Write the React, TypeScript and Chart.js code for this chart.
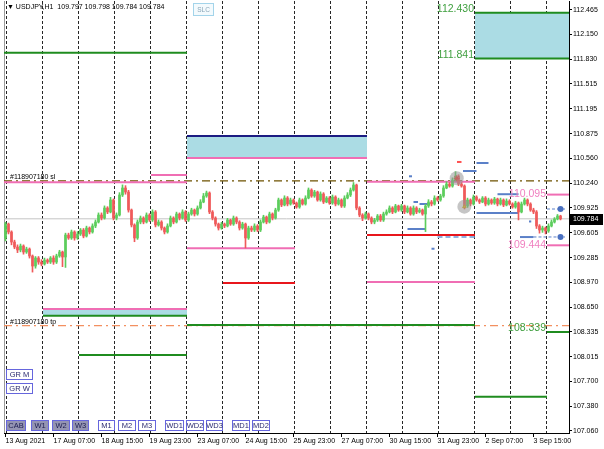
import React, { useEffect, useRef } from 'react';
import { Chart, registerables } from 'chart.js';

Chart.register(...registerables);

// ---------------- data ----------------
const firstOpen = 109.538;

const closes = [
  109.717, 109.615, 109.486, 109.422, 109.384, 109.435, 109.358, 109.396, 109.307, 109.178,
  109.281, 109.229, 109.204, 109.255, 109.229, 109.281, 109.229, 109.307, 109.358, 109.294,
  109.576, 109.538, 109.615, 109.538, 109.589, 109.640, 109.563, 109.666, 109.615, 109.692,
  109.743, 109.833, 109.794, 109.923, 109.872, 110.026, 109.794, 109.833, 110.090, 110.180,
  110.128, 109.897, 109.705, 109.538, 109.743, 109.794, 109.743, 109.833, 109.769, 109.872,
  109.705, 109.743, 109.666, 109.615, 109.692, 109.794, 109.743, 109.846, 109.794, 109.872,
  109.769, 109.846, 109.897, 109.846, 109.923, 110.000, 110.077, 110.116, 109.872, 109.794,
  109.717, 109.666, 109.717, 109.692, 109.769, 109.717, 109.794, 109.743, 109.666, 109.717,
  109.538, 109.666, 109.640, 109.692, 109.640, 109.743, 109.807, 109.743, 109.846, 109.794,
  109.897, 110.026, 109.961, 110.051, 109.974, 110.026, 109.987, 109.936, 110.026, 109.974,
  110.051, 110.154, 110.077, 110.128, 110.026, 110.103, 110.000, 110.051, 109.987, 110.064,
  109.974, 110.026, 109.949, 110.051, 110.090, 110.154, 110.218, 109.923, 109.833, 109.794,
  109.846, 109.794, 109.743, 109.769, 109.820, 109.769, 109.846, 109.872, 109.923, 109.872,
  109.949, 109.897, 109.949, 109.872, 109.923, 109.846, 109.923, 109.872, 109.897, 109.846,
  109.949, 110.000, 109.974, 110.051, 110.026, 110.077, 110.180, 110.231, 110.205, 110.282,
  110.334, 110.231, 110.205, 109.949, 110.026, 109.974, 110.064, 110.026, 110.000, 110.051,
  109.974, 110.026, 109.987, 110.038, 109.974, 110.026, 109.961, 110.013, 109.974, 109.936,
  109.987, 109.872, 109.974, 110.026, 109.974, 109.897, 109.872, 109.692, 109.640, 109.666,
  109.628, 109.692, 109.743, 109.782, 109.820, 109.784,
];

const highs = [
  109.74, 109.73, 109.63, 109.51, 109.45, 109.46, 109.45, 109.42, 109.41, 109.32,
  109.30, 109.30, 109.26, 109.28, 109.27, 109.30, 109.31, 109.33, 109.38, 109.37,
  109.60, 109.60, 109.64, 109.63, 109.62, 109.66, 109.66, 109.69, 109.68, 109.72,
  109.77, 109.86, 109.86, 109.95, 109.94, 110.06, 110.04, 109.86, 110.12, 110.22,
  110.21, 110.15, 109.91, 109.72, 109.77, 109.82, 109.81, 109.86, 109.85, 109.90,
  109.89, 109.77, 109.76, 109.68, 109.72, 109.82, 109.81, 109.87, 109.86, 109.90,
  109.89, 109.87, 109.92, 109.91, 109.95, 110.03, 110.11, 110.14, 110.13, 109.89,
  109.81, 109.73, 109.74, 109.73, 109.79, 109.78, 109.82, 109.81, 109.76, 109.74,
  109.73, 109.69, 109.69, 109.72, 109.71, 109.77, 109.83, 109.82, 109.87, 109.86,
  109.92, 110.05, 110.04, 110.08, 110.07, 110.05, 110.04, 110.00, 110.05, 110.04,
  110.08, 110.18, 110.17, 110.15, 110.14, 110.13, 110.12, 110.07, 110.07, 110.09,
  110.08, 110.05, 110.04, 110.08, 110.12, 110.18, 110.25, 110.23, 109.94, 109.85,
  109.87, 109.86, 109.81, 109.79, 109.84, 109.84, 109.87, 109.90, 109.95, 109.94,
  109.97, 109.96, 109.97, 109.96, 109.95, 109.94, 109.95, 109.94, 109.92, 109.91,
  109.97, 110.03, 110.02, 110.08, 110.07, 110.10, 110.21, 110.26, 110.25, 110.31,
  110.39, 110.35, 110.25, 110.22, 110.05, 110.04, 110.09, 110.08, 110.04, 110.07,
  110.07, 110.05, 110.04, 110.06, 110.05, 110.05, 110.04, 110.04, 110.03, 109.99,
  110.01, 110.00, 110.00, 110.05, 110.04, 109.99, 109.92, 109.89, 109.71, 109.69,
  109.68, 109.72, 109.77, 109.80, 109.84, 109.83,
];

const lows = [
  109.50, 109.59, 109.45, 109.40, 109.35, 109.36, 109.33, 109.34, 109.28, 109.10,
  109.15, 109.20, 109.18, 109.19, 109.21, 109.21, 109.20, 109.21, 109.29, 109.17,
  109.16, 109.52, 109.52, 109.51, 109.52, 109.57, 109.54, 109.55, 109.59, 109.60,
  109.67, 109.73, 109.77, 109.78, 109.85, 109.86, 109.77, 109.77, 109.82, 110.07,
  110.10, 109.87, 109.68, 109.49, 109.52, 109.72, 109.72, 109.73, 109.75, 109.75,
  109.68, 109.69, 109.64, 109.59, 109.60, 109.68, 109.72, 109.73, 109.77, 109.78,
  109.75, 109.75, 109.83, 109.82, 109.83, 109.91, 109.99, 110.06, 109.85, 109.77,
  109.69, 109.64, 109.65, 109.67, 109.68, 109.70, 109.70, 109.72, 109.64, 109.65,
  109.41, 109.52, 109.62, 109.62, 109.62, 109.62, 109.73, 109.72, 109.73, 109.77,
  109.78, 109.88, 109.94, 109.95, 109.95, 109.96, 109.97, 109.92, 109.92, 109.96,
  109.96, 110.04, 110.06, 110.06, 110.01, 110.01, 109.98, 109.99, 109.97, 109.97,
  109.95, 109.96, 109.93, 109.93, 110.04, 110.07, 110.14, 109.90, 109.81, 109.76,
  109.78, 109.77, 109.72, 109.72, 109.75, 109.75, 109.75, 109.83, 109.86, 109.85,
  109.86, 109.88, 109.88, 109.85, 109.86, 109.83, 109.83, 109.85, 109.86, 109.83,
  109.62, 109.93, 109.95, 109.96, 110.01, 110.01, 110.06, 110.17, 110.19, 110.19,
  110.27, 110.21, 110.19, 109.91, 109.93, 109.95, 109.96, 110.01, 109.98, 109.99,
  109.95, 109.96, 109.97, 109.97, 109.95, 109.96, 109.94, 109.95, 109.96, 109.92,
  109.92, 109.77, 109.86, 109.96, 109.95, 109.88, 109.85, 109.66, 109.60, 109.61,
  109.59, 109.61, 109.68, 109.73, 109.77, 109.77,
];

// x axis is measured in H1 bars; one drawn candle = 2 hours
const candleBars = closes.map((_, k) => 1 + 2 * k);

const xTickBars = [1, 33, 65, 97, 129, 161, 193, 225, 257, 289, 321, 353];
const xTickLabels = [
  '13 Aug 2021', '17 Aug 07:00', '18 Aug 15:00', '19 Aug 23:00', '23 Aug 07:00', '24 Aug 15:00',
  '25 Aug 23:00', '27 Aug 07:00', '30 Aug 15:00', '31 Aug 23:00', '2 Sep 07:00', '3 Sep 15:00',
];
const dayGridBars = [2, 26, 50, 74, 98, 122, 146, 170, 194, 218, 242, 266, 290, 314, 338, 362];
const yTicks = [
  112.465, 112.15, 111.83, 111.515, 111.195, 110.875, 110.56, 110.24, 109.925,
  109.605, 109.285, 108.97, 108.65, 108.335, 108.015, 107.7, 107.38, 107.06,
];
const lastPrice = 109.784;
const X_MAX = 376.667;
const Y_MIN = 107.0343;
const Y_MAX = 112.5805;

// horizontal levels: price, from bar, to bar, colour key
const levelPrices = [111.917, 112.43, 111.841, 110.847, 110.565, 110.347, 110.255, 110.26, 109.406, 109.576, 108.96, 108.973, 108.626, 108.54, 108.42, 108.036, 107.5, 108.331, 110.095, 109.444];
const levelFrom = [0, 314, 314, 122, 122, 98, 0, 242, 122, 242, 146, 242, 26, 26, 122, 50, 314, 362, 362, 362];
const levelTo = [122, X_MAX, X_MAX, 242, 242, 122, 122, 314, 194, 314, 194, 314, 122, 122, 314, 122, 362, X_MAX, X_MAX, X_MAX];
const levelKind = ['g', 'g', 'g', 'n', 'p', 'p', 'p', 'p', 'p', 'r', 'r', 'p', 'p', 'g', 'g', 'g', 'g', 'g', 'p', 'p'];

// filled zones: top, bottom, from, to
const zoneTop = [112.43, 110.847, 108.626];
const zoneBottom = [111.841, 110.565, 108.54];
const zoneFrom = [314, 122, 26];
const zoneTo = [X_MAX, 242, 122];

const slPrice = 110.27;
const tpPrice = 108.414;

// small order marks (price, from, to)
const bluePrices = [110.0, 109.974, 109.653, 110.398, 110.501, 110.1, 109.86, 109.55, 109.4, 110.33, 109.75];
const blueFrom = [273, 277, 269, 306, 315, 329, 315, 344, 285, 270, 350];
const blueTo = [276, 284, 281, 315, 323, 343, 343, 353, 287, 272, 351.5];
const redMark = { price: 110.514, from: 302, to: 305 };
const dashedBlue = { price: 109.55, from: 289, to: 314 };
const pendingPrices = [109.91, 109.551];
const pendingFrom = [362, 353];
const pendingTo = [374, 374];
const pendingDotBar = 371;

const circleBars = [301.8, 306.9];
const circlePrices = [110.304, 109.94];

const headerText = '\u25BC USDJPY,H1  109.797 109.798 109.784 109.784';
const levelLabelTexts = ['112.430', '111.841', '108.339', '110.095', '109.444'];
const levelLabelPrices = [112.43, 111.841, 108.331, 110.095, 109.444];
const levelLabelBars = [314, 314, 362, 362, 362];
const levelLabelKind = ['g', 'g', 'g', 'p', 'p'];
const orderLabelTexts = ['#118907180 sl', '#118907180 tp'];
const orderLabelPrices = [slPrice, tpPrice];
const buttonLabels = ['CAB', 'W1', 'W2', 'W3', 'M1', 'M2', 'M3', 'WD1', 'WD2', 'WD3', 'MD1', 'MD2'];
const buttonFilled = [true, true, true, true, false, false, false, false, false, false, false, false];

// ---------------- styles ----------------
const FONT = '"Liberation Sans", Arial, sans-serif';
const C_UP = '#5ccd5c';
const C_DN = '#ef5a5a';
const COLORS: Record<string, string> = { g: '#1f8c1f', p: '#f06eb4', n: '#1c1c82', r: '#e8161c' };
const TEXT_COLORS: Record<string, string> = { g: '#3f9f3f', p: '#f080c0' };
const ZONE_FILL = '#abdce4';

const btnX = [6, 31, 52, 72, 98, 118, 138, 165, 186, 206, 232, 252];
const btnW = [20, 18, 18, 17, 17, 18, 18, 19, 18, 17, 18, 18];

function drawButton(ctx: CanvasRenderingContext2D, x: number, y: number, w: number, h: number, text: string, filled: boolean) {
  ctx.fillStyle = filled ? '#9494b2' : '#ffffff';
  ctx.fillRect(x, y, w, h);
  ctx.strokeStyle = '#6666dd';
  ctx.lineWidth = 1;
  ctx.strokeRect(x + 0.5, y + 0.5, w - 1, h - 1);
  ctx.fillStyle = filled ? '#1c1c52' : '#2a2a70';
  ctx.font = `7.5px ${FONT}`;
  ctx.textAlign = 'center';
  ctx.textBaseline = 'middle';
  ctx.fillText(text, x + w / 2, y + h / 2 + 0.5);
}

const overlayPlugin = {
  id: 'overlay',
  beforeDatasetsDraw(chart: any) {
    const { ctx, chartArea: a } = chart;
    ctx.save();
    ctx.strokeStyle = '#9a9a9a';
    ctx.lineWidth = 1;
    ctx.beginPath();
    ctx.moveTo(a.left + 0.5, a.top);
    ctx.lineTo(a.left + 0.5, a.bottom);
    ctx.stroke();
    ctx.restore();
  },
  afterDraw(chart: any) {
    const ctx: CanvasRenderingContext2D = chart.ctx;
    const xs = chart.scales.x;
    const ys = chart.scales.y;
    ctx.save();
    // header
    ctx.font = `7px ${FONT}`;
    ctx.fillStyle = '#000';
    ctx.textAlign = 'left';
    ctx.textBaseline = 'alphabetic';
    ctx.fillText(headerText, 7, 9);
    // SLC box
    ctx.fillStyle = '#f3fafd';
    ctx.fillRect(193, 3, 21, 13);
    ctx.strokeStyle = '#a3d4ea';
    ctx.strokeRect(193.5, 3.5, 20, 12);
    ctx.fillStyle = '#8aa6b8';
    ctx.font = `6.5px ${FONT}`;
    ctx.textAlign = 'center';
    ctx.textBaseline = 'middle';
    ctx.fillText('SLC', 203.5, 10);
    // level labels
    ctx.font = `10.5px ${FONT}`;
    ctx.textAlign = 'right';
    levelLabelTexts.forEach((t, i) => {
      const x = xs.getPixelForValue(levelLabelBars[i]) - 1;
      const y = ys.getPixelForValue(levelLabelPrices[i]);
      ctx.fillStyle = TEXT_COLORS[levelLabelKind[i]];
      if (levelLabelKind[i] === 'g') {
        ctx.textBaseline = 'alphabetic';
        ctx.fillText(t, x, y - 1);
      } else {
        ctx.textBaseline = 'middle';
        ctx.fillText(t, x, y);
      }
    });
    // order labels
    ctx.font = `7px ${FONT}`;
    ctx.fillStyle = '#000';
    ctx.textAlign = 'left';
    ctx.textBaseline = 'alphabetic';
    orderLabelTexts.forEach((t, i) => {
      ctx.fillText(t, xs.getPixelForValue(4), ys.getPixelForValue(orderLabelPrices[i]) - 2);
    });
    // last price tag
    const py = Math.round(ys.getPixelForValue(lastPrice));
    ctx.fillStyle = '#000';
    ctx.fillRect(570, py - 5, 33, 11);
    ctx.fillStyle = '#fff';
    ctx.font = `7px ${FONT}`;
    ctx.textBaseline = 'middle';
    ctx.fillText(lastPrice.toFixed(3), 573, py + 0.5);
    // buttons
    drawButton(ctx, 6, 369, 27, 11, 'GR M', false);
    drawButton(ctx, 6, 383, 27, 11, 'GR W', false);
    buttonLabels.forEach((b, i) => drawButton(ctx, btnX[i], 420, btnW[i], 11, b, buttonFilled[i]));
    ctx.restore();
  },
};

function seg(price: number, from: number, to: number, color: string, width: number, dash: number[] = []) {
  return {
    type: 'line',
    data: [{ x: from, y: price }, { x: to, y: price }],
    borderColor: color,
    borderWidth: width,
    borderDash: dash,
    pointRadius: 0,
    fill: false,
    borderCapStyle: 'butt',
  };
}

export default function App() {
  const ref = useRef<HTMLCanvasElement | null>(null);

  useEffect(() => {
    if (!ref.current) return;
    const opens = closes.map((c, k) => (k === 0 ? firstOpen : closes[k - 1]));
    const candleColors = closes.map((c, k) => (c >= opens[k] ? C_UP : C_DN));

    const datasets: any[] = [];
    // gray circles (on top)
    datasets.push({
      type: 'line',
      showLine: false,
      data: circleBars.map((b, i) => ({ x: b, y: circlePrices[i] })),
      pointRadius: 7,
      pointBackgroundColor: 'rgba(150,150,150,0.55)',
      pointBorderWidth: 0,
    });
    datasets.push({
      type: 'line',
      showLine: false,
      data: circleBars.map((b, i) => ({ x: b, y: circlePrices[i] })),
      pointStyle: ['star', 'triangle'],
      pointRadius: [3, 2],
      pointBackgroundColor: ['#ff2020', '#f2c200'],
      pointBorderColor: ['#ff2020', '#e0a000'],
      pointBorderWidth: 1,
    });
    // candles
    datasets.push({
      type: 'bar',
      data: candleBars.map((b, k) => ({ x: b, y: [lows[k], highs[k]] })),
      backgroundColor: candleColors,
      barThickness: 1,
      grouped: false,
    });
    datasets.push({
      type: 'bar',
      data: candleBars.map((b, k) => ({ x: b, y: [opens[k], closes[k]] })),
      backgroundColor: candleColors,
      barThickness: 2,
      grouped: false,
    });
    // order marks
    bluePrices.forEach((p, i) => datasets.push(seg(p, blueFrom[i], blueTo[i], '#5b80c8', 2)));
    datasets.push(seg(dashedBlue.price, dashedBlue.from, dashedBlue.to, '#8fb0e0', 2, [5, 3]));
    datasets.push(seg(redMark.price, redMark.from, redMark.to, '#ff5050', 2));
    pendingPrices.forEach((p, i) => {
      datasets.push({
        type: 'line',
        data: [{ x: pendingFrom[i], y: p }, { x: pendingDotBar, y: p }, { x: pendingTo[i], y: p }],
        borderColor: '#5b80c8',
        borderWidth: 1,
        borderDash: [3, 2],
        pointRadius: [0, 3, 0],
        pointBackgroundColor: '#4a70c0',
        pointBorderWidth: 0,
        fill: false,
      });
    });
    // levels
    levelPrices.forEach((p, i) => datasets.push(seg(p, levelFrom[i], levelTo[i], COLORS[levelKind[i]], 2)));
    // SL / TP
    datasets.push(seg(slPrice, 0, X_MAX, '#6e5200', 1.2, [8, 4, 2, 4]));
    datasets.push(seg(tpPrice, 0, X_MAX, '#f39060', 1.2, [8, 4, 2, 4]));
    // last price line
    datasets.push(seg(lastPrice, 0, X_MAX, '#c4c4c4', 1));
    // zones (drawn first)
    zoneTop.forEach((t, i) => {
      datasets.push({
        type: 'line',
        data: [{ x: zoneFrom[i], y: t }, { x: zoneTo[i], y: t }],
        borderWidth: 0,
        pointRadius: 0,
        backgroundColor: ZONE_FILL,
        fill: '+1',
      });
      datasets.push({
        type: 'line',
        data: [{ x: zoneFrom[i], y: zoneBottom[i] }, { x: zoneTo[i], y: zoneBottom[i] }],
        borderWidth: 0,
        pointRadius: 0,
        fill: false,
      });
    });

    const tickFont = { family: FONT, size: 7 };
    const chart = new Chart(ref.current, {
      type: 'bar',
      data: { datasets },
      options: {
        animation: false,
        responsive: false,
        devicePixelRatio: 1,
        events: [],
        layout: { autoPadding: false, padding: { left: 4, top: 1, right: 0, bottom: 0 } },
        plugins: { legend: { display: false }, tooltip: { enabled: false } },
        scales: {
          x: {
            type: 'linear',
            position: 'bottom',
            min: 0,
            max: X_MAX,
            bounds: 'data',
            offset: false,
            afterBuildTicks: (s: any) => {
              s.ticks = xTickBars.map((v) => ({ value: v }));
            },
            afterFit: (s: any) => {
              s.height = 16;
              s.paddingLeft = 0;
              s.paddingRight = 0;
            },
            grid: { drawOnChartArea: false, drawTicks: true, tickLength: 4, color: '#000', offset: false },
            border: { display: true, color: '#000', width: 1 },
            ticks: {
              autoSkip: false,
              maxRotation: 0,
              minRotation: 0,
              align: 'start',
              padding: 0,
              color: '#000',
              font: tickFont,
              callback: (v: any) => xTickLabels[xTickBars.indexOf(Number(v))] ?? '',
            },
          },
          xg: {
            type: 'linear',
            position: 'bottom',
            min: 0,
            max: X_MAX,
            bounds: 'data',
            offset: false,
            afterBuildTicks: (s: any) => {
              s.ticks = dayGridBars.map((v) => ({ value: v }));
            },
            afterFit: (s: any) => {
              s.height = 0;
              s.paddingLeft = 0;
              s.paddingRight = 0;
            },
            grid: { drawOnChartArea: true, drawTicks: false, color: 'rgba(0,0,0,0.85)', lineWidth: 1, offset: false },
            border: { display: false, dash: [3, 2] },
            ticks: { display: false, autoSkip: false },
          },
          y: {
            type: 'linear',
            position: 'right',
            min: Y_MIN,
            max: Y_MAX,
            bounds: 'data',
            afterBuildTicks: (s: any) => {
              s.ticks = yTicks.map((v) => ({ value: v }));
            },
            afterFit: (s: any) => {
              s.width = 35;
              s.paddingTop = 0;
              s.paddingBottom = 0;
            },
            grid: { drawOnChartArea: false, drawTicks: true, tickLength: 3, color: '#000' },
            border: { display: true, color: '#000', width: 1 },
            ticks: {
              autoSkip: false,
              padding: 1,
              color: '#000',
              font: tickFont,
              callback: (v: any) => Number(v).toFixed(3),
            },
          },
        },
      } as any,
      plugins: [overlayPlugin],
    });
    return () => chart.destroy();
  }, []);

  return (
    <div style={{ position: 'fixed', left: 0, top: 0, width: 604, height: 449, background: '#fff' }}>
      <canvas ref={ref} width={604} height={449} style={{ display: 'block' }} />
    </div>
  );
}
